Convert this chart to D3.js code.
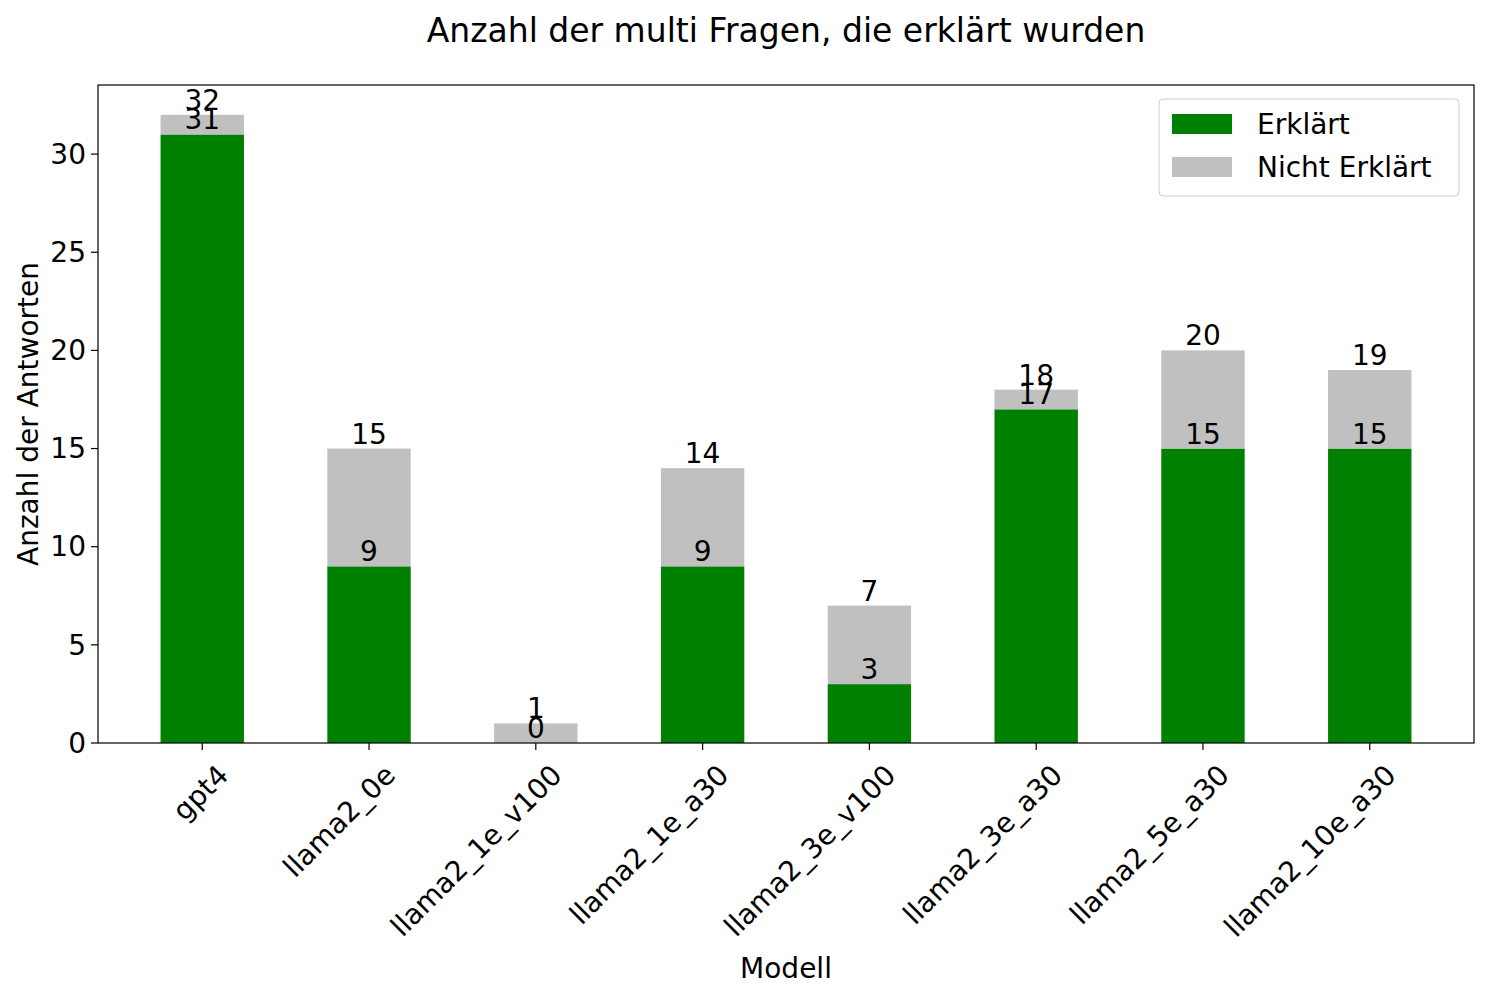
<!DOCTYPE html>
<html><head><meta charset="utf-8">
<script src="https://cdn.jsdelivr.net/npm/d3@7"></script>
<style>body{margin:0;background:#fff}text{font-family:"DejaVu Sans",sans-serif;fill:#000}</style>
</head><body><svg id="c" width="1500" height="1000"></svg>
<script>
const categories=["gpt4","llama2_0e","llama2_1e_v100","llama2_1e_a30","llama2_3e_v100","llama2_3e_a30","llama2_5e_a30","llama2_10e_a30"];
const explained=[31,9,0,9,3,17,15,15];
const totals=[32,15,1,14,7,18,20,19];
const yTicks=[0,5,10,15,20,25,30];
const svg=d3.select("#c");
const L=98,R=1474,T=85,B=743;
const x=d3.scaleLinear().domain([-0.625,7.625]).range([L,R]);
const y=d3.scaleLinear().domain([0,33.52]).range([B,T]);
const bw=x(0.25)-x(-0.25);
const g=svg.append("g");
categories.forEach((c,i)=>{
  g.append("rect").attr("x",x(i)-bw/2).attr("width",bw).attr("y",y(explained[i])).attr("height",y(0)-y(explained[i])).attr("fill","#008000");
  g.append("rect").attr("x",x(i)-bw/2).attr("width",bw).attr("y",y(totals[i])).attr("height",y(explained[i])-y(totals[i])).attr("fill","#c0c0c0");
  g.append("text").attr("x",x(i)).attr("y",y(totals[i])-5).attr("text-anchor","middle").attr("font-size",28).text(totals[i]);
  g.append("text").attr("x",x(i)).attr("y",y(explained[i])-5).attr("text-anchor","middle").attr("font-size",28).text(explained[i]);
});
svg.append("rect").attr("x",L).attr("y",T).attr("width",R-L).attr("height",B-T).attr("fill","none").attr("stroke","#000").attr("stroke-width",1.2);
yTicks.forEach(t=>{
  svg.append("line").attr("x1",L-7).attr("x2",L).attr("y1",y(t)).attr("y2",y(t)).attr("stroke","#000").attr("stroke-width",1.2);
  svg.append("text").attr("x",L-12).attr("y",y(t)).attr("dy","0.35em").attr("text-anchor","end").attr("font-size",28).text(t);
});
categories.forEach((c,i)=>{
  svg.append("line").attr("x1",x(i)).attr("x2",x(i)).attr("y1",B).attr("y2",B+7).attr("stroke","#000").attr("stroke-width",1.2);
  svg.append("text").attr("transform",`translate(${x(i)+14},${B+20}) rotate(-45)`).attr("text-anchor","end").attr("dy","0.7em").attr("font-size",28).text(c);
});
svg.append("text").attr("x",786).attr("y",42).attr("text-anchor","middle").attr("font-size",33).text("Anzahl der multi Fragen, die erklärt wurden");
svg.append("text").attr("x",786).attr("y",978).attr("text-anchor","middle").attr("font-size",28).text("Modell");
svg.append("text").attr("transform","translate(38,414) rotate(-90)").attr("text-anchor","middle").attr("font-size",28).text("Anzahl der Antworten");
const lg=svg.append("g");
lg.append("rect").attr("x",1159).attr("y",99).attr("width",300).attr("height",97).attr("rx",4).attr("fill","#fff").attr("stroke","#ccc");
[["Erklärt","#008000"],["Nicht Erklärt","#c0c0c0"]].forEach((d,i)=>{
  lg.append("rect").attr("x",1172).attr("y",114+i*43).attr("width",60).attr("height",20).attr("fill",d[1]);
  lg.append("text").attr("x",1257).attr("y",124+i*43).attr("dy","0.35em").attr("font-size",28).text(d[0]);
});
</script></body></html>
